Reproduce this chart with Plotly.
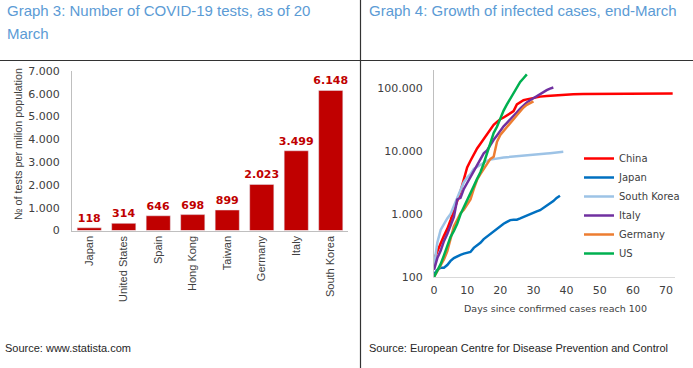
import plotly.graph_objects as go

W, H = 693, 368

# ---- Graph 3 data ----
countries = ["Japan", "United States", "Spain", "Hong Kong", "Taiwan", "Germany", "Italy", "South Korea"]
tests_per_million = [118, 314, 646, 698, 899, 2023, 3499, 6148]
bar_yticks = [0, 1000, 2000, 3000, 4000, 5000, 6000, 7000]

# ---- Graph 4 data (days since 100 cases, cumulative cases) ----
china_days = [0, 1, 2, 3, 4, 5, 6, 7, 8, 9, 10, 11, 12, 13, 14, 15, 16, 17, 18, 19, 20, 21, 22, 23, 24, 25, 26, 27, 28, 29, 30, 32, 34, 36, 38, 40, 42, 45, 50, 55, 60, 65, 70, 72]
china_cases = [190, 260, 340, 450, 580, 800, 1100, 1600, 2300, 3600, 5500, 7000, 9000, 11000, 13000, 15500, 18500, 22000, 26000, 29000, 32000, 34000, 36500, 39000, 43000, 55000, 60000, 64000, 66000, 68000, 70000, 73000, 75000, 76500, 77500, 78500, 79500, 80000, 80500, 80800, 81000, 81500, 82000, 82200]

japan_days = list(range(0, 39))
japan_cases = [110, 130, 140, 140, 155, 180, 200, 215, 225, 235, 245, 250, 290, 320, 350, 400, 440, 480, 520, 580, 640, 700, 750, 800, 810, 810, 850, 900, 950, 1000, 1050, 1100, 1150, 1250, 1350, 1450, 1600, 1800, 1950]

korea_days = list(range(0, 40))
korea_cases = [150, 350, 560, 700, 850, 1000, 1300, 1800, 2400, 3200, 3800, 4300, 5200, 5600, 6100, 6600, 7000, 7300, 7480, 7520, 7760, 7870, 7980, 8090, 8160, 8240, 8320, 8410, 8560, 8650, 8800, 8900, 8960, 9040, 9140, 9240, 9330, 9480, 9580, 9700]

italy_days = list(range(0, 37))
italy_cases = [130, 200, 260, 370, 480, 640, 900, 1700, 1800, 2500, 3100, 3900, 4600, 5900, 7400, 9200, 10200, 12500, 15100, 17700, 21200, 24700, 28000, 31500, 35700, 41000, 47000, 53600, 59100, 63900, 69200, 74400, 80600, 86500, 92500, 97700, 101700]

germany_days = list(range(0, 31))
germany_cases = [100, 125, 150, 190, 255, 400, 640, 810, 1030, 1170, 1400, 1700, 2500, 3500, 4300, 5200, 6300, 7500, 8100, 14000, 18000, 21000, 24500, 28500, 32000, 37000, 43000, 49000, 54000, 58000, 61500]

us_days = list(range(0, 29))
us_cases = [100, 125, 160, 220, 320, 435, 540, 700, 990, 1300, 1630, 2180, 2770, 3610, 4600, 6340, 9200, 13800, 19400, 24200, 33600, 43800, 54900, 68200, 85400, 104000, 124700, 143000, 164600]

log_tickvals = [100, 1000, 10000, 100000]
log_ticktext = ["100", "1.000", "10.000", "100.000"]
day_ticks = [0, 10, 20, 30, 40, 50, 60, 70]

series = [
    ("China", china_days, china_cases, "#FF0000"),
    ("Japan", japan_days, japan_cases, "#0070C0"),
    ("South Korea", korea_days, korea_cases, "#9DC3E6"),
    ("Italy", italy_days, italy_cases, "#7030A0"),
    ("Germany", germany_days, germany_cases, "#ED7D31"),
    ("US", us_days, us_cases, "#00B050"),
]

def px_x(p):
    return p / W

def px_y(p):
    return 1 - p / H

fig = go.Figure()

fig.add_trace(go.Bar(
    x=countries, y=tests_per_million, marker_color="#C00000",
    texttemplate="%{y:,}", textposition="outside", constraintext="none",
    textfont=dict(family="DejaVu Sans", size=11, color="#C00000", weight="bold"),
    cliponaxis=False, showlegend=False, xaxis="x", yaxis="y",
))

for name, d, c, col in series:
    fig.add_trace(go.Scatter(
        x=d, y=c, mode="lines", name=name,
        line=dict(color=col, width=2.5),
        xaxis="x2", yaxis="y2",
    ))

fig.update_layout(
    width=W, height=H, autosize=False,
    margin=dict(l=0, r=0, t=0, b=0, pad=0),
    paper_bgcolor="white", plot_bgcolor="white",
    separators=",.",
    bargap=0.3,
    xaxis=dict(domain=[px_x(72), px_x(348)], tickangle=-90, automargin=False,
               tickfont=dict(family="Liberation Sans", size=11, color="#404040"),
               showline=True, linecolor="#BFBFBF", linewidth=1, ticks="",
               showgrid=False, anchor="y"),
    yaxis=dict(domain=[px_y(230.5), px_y(71)], range=[0, 7000], automargin=False,
               tickvals=bar_yticks, tickformat=",", ticklabelstandoff=9,
               tickfont=dict(family="DejaVu Sans", size=11, color="#404040"),
               showline=True, linecolor="#BFBFBF", linewidth=1, ticks="",
               showgrid=False, zeroline=False, anchor="x"),
    xaxis2=dict(domain=[px_x(434), px_x(675)], range=[0, 72.7], automargin=False,
                tickvals=day_ticks, ticklabelstandoff=3,
                tickfont=dict(family="DejaVu Sans", size=11, color="#404040"),
                showline=True, linecolor="#D9D9D9", linewidth=1, ticks="",
                showgrid=False, zeroline=False, anchor="y2"),
    yaxis2=dict(domain=[px_y(277), px_y(70)], type="log", range=[2, 5.286], automargin=False,
                tickvals=log_tickvals, ticktext=log_ticktext, ticklabelstandoff=8,
                tickfont=dict(family="DejaVu Sans", size=11, color="#404040"),
                showline=True, linecolor="#BFBFBF", linewidth=1, ticks="",
                showgrid=False, zeroline=False, anchor="x2"),
    legend=dict(x=px_x(579), y=px_y(144), xanchor="left", yanchor="top",
                font=dict(family="DejaVu Sans", size=10, color="#404040"),
                bgcolor="rgba(0,0,0,0)", tracegroupgap=0),
)

# separators (table lines)
fig.add_shape(type="line", xref="paper", yref="paper", x0=0, x1=1, y0=px_y(60.5), y1=px_y(60.5),
              line=dict(color="#333333", width=1.2))
fig.add_shape(type="line", xref="paper", yref="paper", x0=px_x(360.5), x1=px_x(360.5), y0=0, y1=1,
              line=dict(color="#333333", width=1.2))

title_font = dict(family="Liberation Sans", size=15, color="#5B9BD5")
fig.add_annotation(text="Graph 3: Number of COVID-19 tests, as of 20", xref="paper", yref="paper",
                   x=px_x(5), y=px_y(11), xanchor="left", yanchor="middle",
                   showarrow=False, font=title_font)
fig.add_annotation(text="March", xref="paper", yref="paper",
                   x=px_x(5), y=px_y(33), xanchor="left", yanchor="middle",
                   showarrow=False, font=title_font)
fig.add_annotation(text="Graph 4: Growth of infected cases, end-March", xref="paper", yref="paper",
                   x=px_x(367), y=px_y(11), xanchor="left", yanchor="middle",
                   showarrow=False, font=title_font)

fig.add_annotation(text="№ of tests per milion population", xref="paper", yref="paper",
                   x=px_x(18), y=px_y(144), textangle=-90, showarrow=False,
                   xanchor="center", yanchor="middle",
                   font=dict(family="Liberation Sans", size=10.8, color="#404040"))

fig.add_annotation(text="Days since confirmed cases reach 100", xref="paper", yref="paper",
                   x=px_x(555), y=px_y(308), showarrow=False, xanchor="center", yanchor="middle",
                   font=dict(family="DejaVu Sans", size=9.5, color="#404040"))

src_font = dict(family="Liberation Sans", size=11, color="#262626")
fig.add_annotation(text="Source: www.statista.com", xref="paper", yref="paper",
                   x=px_x(3), y=px_y(348), xanchor="left", yanchor="middle",
                   showarrow=False, font=src_font)
fig.add_annotation(text="Source: European Centre for Disease Prevention and Control", xref="paper", yref="paper",
                   x=px_x(367), y=px_y(348), xanchor="left", yanchor="middle",
                   showarrow=False, font=src_font)

fig.write_html("out.html", config={"displayModeBar": False},
               post_script="document.body.style.margin='0';document.body.style.overflow='hidden';")
